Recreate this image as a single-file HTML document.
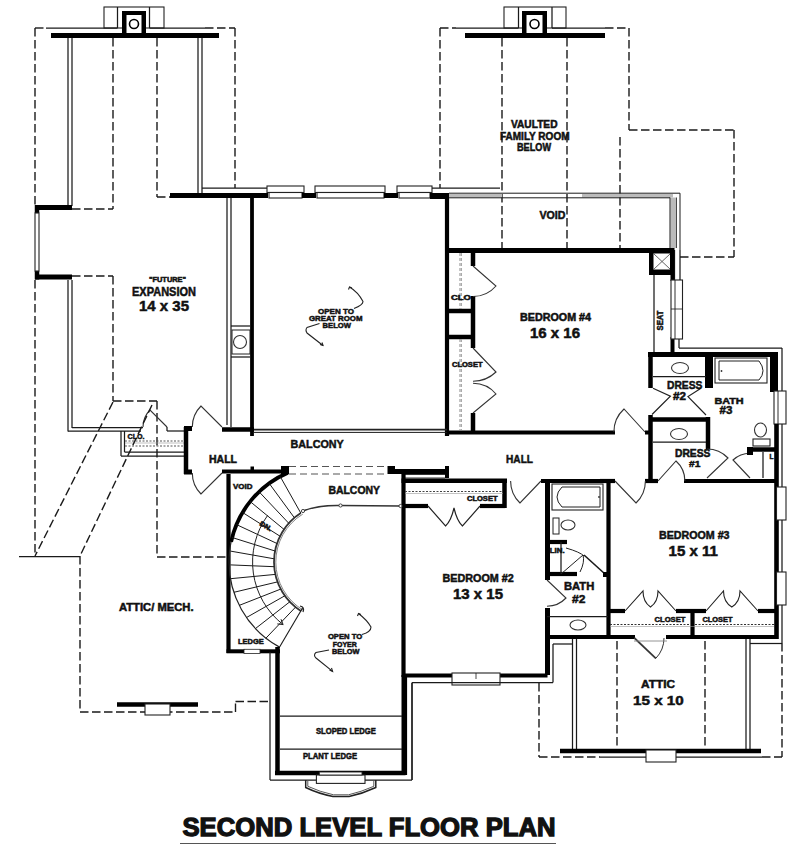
<!DOCTYPE html>
<html><head><meta charset="utf-8"><style>
html,body{margin:0;padding:0;background:#fff;}
svg{display:block;}
text{font-family:"Liberation Sans",sans-serif;font-weight:bold;fill:#111;stroke:#111;stroke-width:0.5px;}
</style></head><body>
<svg width="800" height="849" viewBox="0 0 800 849">
<rect width="800" height="849" fill="#fff"/>
<line x1="51" y1="35.5" x2="219" y2="35.5" stroke="#000" stroke-width="5" stroke-linecap="butt"/>
<rect x="104" y="7" width="60" height="21" stroke="#222" stroke-width="1.1" fill="#fff"/>
<rect x="122" y="11" width="24" height="24" fill="#000"/>
<rect x="126.5" y="15" width="15.0" height="18" fill="#fff"/>
<circle cx="134" cy="24" r="4.5" stroke="#000" stroke-width="1.6" fill="#fff"/>
<line x1="35" y1="28" x2="46" y2="28" stroke="#1a1a1a" stroke-width="1.4" stroke-dasharray="8.5 3.5"/>
<line x1="46" y1="28" x2="117.5" y2="28" stroke="#1a1a1a" stroke-width="1.25"/>
<line x1="149.5" y1="28" x2="205" y2="28" stroke="#1a1a1a" stroke-width="1.25"/>
<line x1="117.5" y1="7" x2="117.5" y2="28" stroke="#1a1a1a" stroke-width="1.25"/>
<line x1="149.5" y1="7" x2="149.5" y2="28" stroke="#1a1a1a" stroke-width="1.25"/>
<line x1="205" y1="28" x2="235" y2="28" stroke="#1a1a1a" stroke-width="1.4" stroke-dasharray="8.5 3.5"/>
<line x1="35" y1="28" x2="35" y2="207" stroke="#1a1a1a" stroke-width="1.4" stroke-dasharray="8.5 3.5"/>
<line x1="68" y1="38" x2="68" y2="206" stroke="#1a1a1a" stroke-width="1.25"/>
<line x1="72" y1="38" x2="72" y2="206" stroke="#1a1a1a" stroke-width="1.25"/>
<line x1="113" y1="38" x2="113" y2="209" stroke="#1a1a1a" stroke-width="1.4" stroke-dasharray="8.5 3.5"/>
<line x1="72" y1="209" x2="113" y2="209" stroke="#1a1a1a" stroke-width="1.4" stroke-dasharray="8.5 3.5"/>
<line x1="157" y1="38" x2="157" y2="197" stroke="#1a1a1a" stroke-width="1.4" stroke-dasharray="8.5 3.5"/>
<line x1="157" y1="197" x2="170" y2="197" stroke="#1a1a1a" stroke-width="1.4" stroke-dasharray="8.5 3.5"/>
<line x1="198" y1="38" x2="198" y2="193" stroke="#1a1a1a" stroke-width="1.25"/>
<line x1="202" y1="38" x2="202" y2="193" stroke="#1a1a1a" stroke-width="1.25"/>
<line x1="235" y1="28" x2="235" y2="188" stroke="#1a1a1a" stroke-width="1.4" stroke-dasharray="8.5 3.5"/>
<line x1="35" y1="207.5" x2="72" y2="207.5" stroke="#000" stroke-width="5" stroke-linecap="butt"/>
<line x1="37" y1="205" x2="37" y2="213" stroke="#000" stroke-width="4.5" stroke-linecap="butt"/>
<line x1="37" y1="271" x2="37" y2="279.5" stroke="#000" stroke-width="4.5" stroke-linecap="butt"/>
<rect x="35" y="213" width="4" height="58" stroke="#222" stroke-width="1.1" fill="#fff"/>
<line x1="35" y1="277" x2="72" y2="277" stroke="#000" stroke-width="5" stroke-linecap="butt"/>
<line x1="35" y1="280" x2="35" y2="556" stroke="#1a1a1a" stroke-width="1.4" stroke-dasharray="8.5 3.5"/>
<line x1="68" y1="280" x2="68" y2="431.5" stroke="#1a1a1a" stroke-width="1.25"/>
<line x1="72" y1="280" x2="72" y2="428" stroke="#1a1a1a" stroke-width="1.25"/>
<line x1="72" y1="276" x2="113" y2="276" stroke="#1a1a1a" stroke-width="1.4" stroke-dasharray="8.5 3.5"/>
<line x1="113" y1="276" x2="113" y2="401" stroke="#1a1a1a" stroke-width="1.4" stroke-dasharray="8.5 3.5"/>
<line x1="113" y1="401" x2="157" y2="401" stroke="#1a1a1a" stroke-width="1.4" stroke-dasharray="8.5 3.5"/>
<line x1="157" y1="401" x2="157" y2="557" stroke="#1a1a1a" stroke-width="1.4" stroke-dasharray="8.5 3.5"/>
<line x1="157" y1="557" x2="228" y2="557" stroke="#1a1a1a" stroke-width="1.4" stroke-dasharray="8.5 3.5"/>
<line x1="202" y1="188" x2="267" y2="188" stroke="#1a1a1a" stroke-width="1.25"/>
<rect x="170" y="193" width="98" height="5" fill="#000"/>
<rect x="267" y="186" width="37" height="6.5" stroke="#222" stroke-width="1.1" fill="#fff"/>
<rect x="269" y="192.5" width="33" height="5.5" stroke="#222" stroke-width="1.1" fill="#fff"/>
<rect x="302" y="193" width="14" height="5" fill="#000"/>
<rect x="315" y="186" width="70" height="6.5" stroke="#222" stroke-width="1.1" fill="#fff"/>
<rect x="317" y="192.5" width="67" height="5.5" stroke="#222" stroke-width="1.1" fill="#fff"/>
<rect x="384" y="193" width="14" height="5" fill="#000"/>
<rect x="397" y="186" width="35" height="6.5" stroke="#222" stroke-width="1.1" fill="#fff"/>
<rect x="399" y="192.5" width="31" height="5.5" stroke="#222" stroke-width="1.1" fill="#fff"/>
<rect x="430" y="193" width="19" height="6" fill="#000"/>
<line x1="432" y1="188" x2="500" y2="188" stroke="#1a1a1a" stroke-width="1.25"/>
<line x1="227" y1="198" x2="227" y2="425" stroke="#1a1a1a" stroke-width="1.25"/>
<line x1="231" y1="198" x2="231" y2="427" stroke="#1a1a1a" stroke-width="1.25"/>
<line x1="231" y1="326" x2="250" y2="326" stroke="#1a1a1a" stroke-width="1.25"/>
<line x1="231" y1="357" x2="250" y2="357" stroke="#1a1a1a" stroke-width="1.25"/>
<rect x="232" y="330" width="18" height="24" stroke="#222" stroke-width="1.0" fill="#fff"/>
<circle cx="240" cy="342" r="6.5" stroke="#333" stroke-width="1.1" fill="none"/>
<line x1="252" y1="195" x2="252" y2="436" stroke="#000" stroke-width="3.8" stroke-linecap="butt"/>
<line x1="447" y1="195" x2="447" y2="436" stroke="#000" stroke-width="4.2" stroke-linecap="butt"/>
<line x1="465" y1="35.5" x2="605" y2="35.5" stroke="#000" stroke-width="5" stroke-linecap="butt"/>
<rect x="504" y="7" width="62" height="21" stroke="#222" stroke-width="1.1" fill="#fff"/>
<rect x="522" y="11" width="25" height="24" fill="#000"/>
<rect x="526.5" y="15" width="16.0" height="18" fill="#fff"/>
<circle cx="534.5" cy="24" r="4.5" stroke="#000" stroke-width="1.6" fill="#fff"/>
<line x1="440" y1="28" x2="456" y2="28" stroke="#1a1a1a" stroke-width="1.4" stroke-dasharray="8.5 3.5"/>
<line x1="456" y1="28" x2="518.5" y2="28" stroke="#1a1a1a" stroke-width="1.25"/>
<line x1="552" y1="28" x2="605" y2="28" stroke="#1a1a1a" stroke-width="1.25"/>
<line x1="518.5" y1="7" x2="518.5" y2="28" stroke="#1a1a1a" stroke-width="1.25"/>
<line x1="552" y1="7" x2="552" y2="28" stroke="#1a1a1a" stroke-width="1.25"/>
<line x1="605" y1="28" x2="629" y2="28" stroke="#1a1a1a" stroke-width="1.4" stroke-dasharray="8.5 3.5"/>
<line x1="440" y1="28" x2="440" y2="188" stroke="#1a1a1a" stroke-width="1.4" stroke-dasharray="8.5 3.5"/>
<line x1="502" y1="38" x2="502" y2="250" stroke="#1a1a1a" stroke-width="1.4" stroke-dasharray="8.5 3.5"/>
<line x1="567" y1="38" x2="567" y2="250" stroke="#1a1a1a" stroke-width="1.4" stroke-dasharray="8.5 3.5"/>
<line x1="629" y1="28" x2="629" y2="130" stroke="#1a1a1a" stroke-width="1.4" stroke-dasharray="8.5 3.5"/>
<line x1="629" y1="130" x2="734" y2="130" stroke="#1a1a1a" stroke-width="1.4" stroke-dasharray="8.5 3.5"/>
<line x1="734" y1="130" x2="734" y2="257" stroke="#1a1a1a" stroke-width="1.4" stroke-dasharray="8.5 3.5"/>
<line x1="680" y1="257" x2="734" y2="257" stroke="#1a1a1a" stroke-width="1.4" stroke-dasharray="8.5 3.5"/>
<line x1="620" y1="137" x2="620" y2="250" stroke="#1a1a1a" stroke-width="1.4" stroke-dasharray="8.5 3.5"/>
<line x1="449" y1="193.2" x2="680" y2="193.2" stroke="#1a1a1a" stroke-width="1.0"/>
<rect x="449" y="194" width="53" height="3.5" fill="#bbb"/>
<rect x="582" y="194" width="91" height="3.5" fill="#bbb"/>
<line x1="449" y1="197.8" x2="670" y2="197.8" stroke="#1a1a1a" stroke-width="1.0"/>
<rect x="670.5" y="197.5" width="5.5" height="50.5" fill="#bbb"/>
<line x1="670" y1="197.5" x2="670" y2="248" stroke="#1a1a1a" stroke-width="1.0"/>
<line x1="676.5" y1="197.5" x2="676.5" y2="248" stroke="#1a1a1a" stroke-width="0.8"/>
<line x1="680" y1="193.2" x2="680" y2="250" stroke="#1a1a1a" stroke-width="1.0"/>
<line x1="674.5" y1="250" x2="674.5" y2="280" stroke="#1a1a1a" stroke-width="1.25"/>
<line x1="680" y1="250" x2="680" y2="280" stroke="#1a1a1a" stroke-width="1.25"/>
<line x1="679" y1="339" x2="679" y2="348" stroke="#1a1a1a" stroke-width="1.25"/>
<line x1="679" y1="348" x2="782" y2="348" stroke="#1a1a1a" stroke-width="1.25"/>
<line x1="782" y1="348" x2="782" y2="643" stroke="#1a1a1a" stroke-width="1.25"/>
<line x1="445" y1="250.5" x2="674" y2="250.5" stroke="#000" stroke-width="5" stroke-linecap="butt"/>
<line x1="473" y1="253" x2="473" y2="266" stroke="#000" stroke-width="4.5" stroke-linecap="butt"/>
<line x1="473" y1="296" x2="473" y2="348" stroke="#000" stroke-width="4.5" stroke-linecap="butt"/>
<line x1="473" y1="413" x2="473" y2="432" stroke="#000" stroke-width="4.5" stroke-linecap="butt"/>
<line x1="447" y1="311" x2="473" y2="311" stroke="#000" stroke-width="4.5" stroke-linecap="butt"/>
<line x1="447" y1="337" x2="473" y2="337" stroke="#000" stroke-width="4.5" stroke-linecap="butt"/>
<line x1="460" y1="253" x2="460" y2="309" stroke="#888" stroke-width="1.0" stroke-dasharray="3 2"/>
<line x1="461.5" y1="253" x2="461.5" y2="309" stroke="#aaa" stroke-width="1.0" stroke-dasharray="3 2"/>
<line x1="460" y1="339" x2="460" y2="430" stroke="#888" stroke-width="1.0" stroke-dasharray="3 2"/>
<line x1="461.5" y1="339" x2="461.5" y2="430" stroke="#aaa" stroke-width="1.0" stroke-dasharray="3 2"/>
<path d="M473,266 L496,286 A30.5,30.5 0 0 1 473.0,296.5" stroke="#333" stroke-width="1.1" fill="none"/>
<path d="M473,348 L496,372 A33.2,33.2 0 0 1 473.0,381.2" stroke="#333" stroke-width="1.1" fill="none"/>
<path d="M473,413 L496,394 A29.8,29.8 0 0 0 473.0,383.2" stroke="#333" stroke-width="1.1" fill="none"/>
<line x1="447" y1="432.5" x2="615" y2="432.5" stroke="#000" stroke-width="4.2" stroke-linecap="butt"/>
<path d="M645,432 L624,409 A31.1,31.1 0 0 0 613.9,432.0" stroke="#333" stroke-width="1.1" fill="none"/>
<rect x="645" y="430.5" width="7" height="4.0" fill="#000"/>
<rect x="649" y="248" width="25.5" height="27" fill="#000"/>
<rect x="653.5" y="253.5" width="16.5" height="16.0" fill="#fff"/>
<line x1="654" y1="254" x2="670" y2="269" stroke="#555" stroke-width="0.9"/>
<line x1="670" y1="254" x2="654" y2="269" stroke="#555" stroke-width="0.9"/>
<line x1="654" y1="275" x2="654" y2="353" stroke="#1a1a1a" stroke-width="1.25"/>
<line x1="672.5" y1="275" x2="672.5" y2="281" stroke="#000" stroke-width="4" stroke-linecap="butt"/>
<line x1="672.5" y1="337" x2="672.5" y2="353" stroke="#000" stroke-width="4" stroke-linecap="butt"/>
<rect x="671" y="280" width="11.5" height="59" stroke="#222" stroke-width="1.1" fill="#fff"/>
<line x1="675" y1="280" x2="675" y2="339" stroke="#1a1a1a" stroke-width="0.9"/>
<line x1="671" y1="309" x2="682" y2="309" stroke="#1a1a1a" stroke-width="0.8"/>
<line x1="650.5" y1="352" x2="650.5" y2="388" stroke="#000" stroke-width="4.5" stroke-linecap="butt"/>
<line x1="650.5" y1="415" x2="650.5" y2="481" stroke="#000" stroke-width="4.5" stroke-linecap="butt"/>
<line x1="648" y1="354.5" x2="778" y2="354.5" stroke="#000" stroke-width="5" stroke-linecap="butt"/>
<rect x="705" y="352" width="8" height="36" fill="#000"/>
<line x1="653" y1="376.5" x2="706" y2="376.5" stroke="#1a1a1a" stroke-width="1.25"/>
<ellipse cx="680" cy="368" rx="8.5" ry="5.5" stroke="#333" stroke-width="1.1" fill="none"/>
<rect x="715" y="358" width="52" height="25" stroke="#222" stroke-width="1.1" fill="#fff"/>
<path d="M719,361 L759,361 Q767,371 759,380 L719,380 Z" stroke="#222" stroke-width="1.0" fill="none" />
<circle cx="721.5" cy="371" r="0.9" fill="#333"/>
<rect x="770" y="352" width="8" height="40" fill="#000"/>
<rect x="774" y="391" width="12" height="33" stroke="#222" stroke-width="1.1" fill="#fff"/>
<line x1="778" y1="391" x2="778" y2="424" stroke="#1a1a1a" stroke-width="0.9"/>
<line x1="776.5" y1="424" x2="776.5" y2="639" stroke="#000" stroke-width="4.6" stroke-linecap="butt"/>
<rect x="776.5" y="487" width="9.5" height="33" stroke="#222" stroke-width="1.1" fill="#fff"/>
<rect x="776.5" y="572" width="9.5" height="33" stroke="#222" stroke-width="1.1" fill="#fff"/>
<path d="M653,388.3 L670.4,396.2 L652,414.5" stroke="#222" stroke-width="1.2" fill="none" />
<path d="M701,388.3 L688,396.6 L706,415" stroke="#222" stroke-width="1.2" fill="none" />
<line x1="649" y1="419.5" x2="709" y2="419.5" stroke="#000" stroke-width="4.5" stroke-linecap="butt"/>
<line x1="708" y1="417" x2="708" y2="449" stroke="#000" stroke-width="4.5" stroke-linecap="butt"/>
<line x1="653" y1="442" x2="706" y2="442" stroke="#1a1a1a" stroke-width="1.25"/>
<ellipse cx="679" cy="434" rx="8.5" ry="5.5" stroke="#333" stroke-width="1.1" fill="none"/>
<line x1="600" y1="481" x2="615" y2="481" stroke="#000" stroke-width="4.2" stroke-linecap="butt"/>
<line x1="645" y1="481" x2="658" y2="481" stroke="#000" stroke-width="4.2" stroke-linecap="butt"/>
<line x1="684" y1="481" x2="778" y2="481" stroke="#000" stroke-width="4.2" stroke-linecap="butt"/>
<path d="M658,481 L676,461 A26.9,26.9 0 0 1 684.9,481.0" stroke="#333" stroke-width="1.1" fill="none"/>
<path d="M707,478 L728,458 A29.0,29.0 0 0 0 707.0,449.0" stroke="#333" stroke-width="1.1" fill="none"/>
<path d="M750,478 L733,460 A24.8,24.8 0 0 1 750.0,453.2" stroke="#333" stroke-width="1.1" fill="none"/>
<line x1="749" y1="449.5" x2="776" y2="449.5" stroke="#000" stroke-width="4.5" stroke-linecap="butt"/>
<rect x="747" y="447" width="6" height="8" fill="#000"/>
<line x1="763" y1="452" x2="763" y2="478" stroke="#1a1a1a" stroke-width="1.25"/>
<ellipse cx="760.5" cy="430" rx="6" ry="7" stroke="#333" stroke-width="1.1" fill="none"/>
<rect x="753" y="439" width="17" height="7" stroke="#222" stroke-width="1.1" fill="#fff"/>
<path d="M615,481 L636,503 A30.4,30.4 0 0 0 645.4,481.0" stroke="#333" stroke-width="1.1" fill="none"/>
<line x1="72" y1="427.5" x2="143" y2="427.5" stroke="#1a1a1a" stroke-width="1.25"/>
<line x1="68" y1="431" x2="141" y2="431" stroke="#1a1a1a" stroke-width="1.25"/>
<path d="M167,427 L150,410 A24.0,24.0 0 0 0 143.0,427.0" stroke="#333" stroke-width="1.1" fill="none"/>
<line x1="167" y1="427" x2="167" y2="431" stroke="#1a1a1a" stroke-width="1.25"/>
<line x1="167" y1="431" x2="184" y2="431" stroke="#1a1a1a" stroke-width="1.25"/>
<line x1="121" y1="431" x2="121" y2="456" stroke="#1a1a1a" stroke-width="1.25"/>
<line x1="121" y1="456" x2="184" y2="456" stroke="#1a1a1a" stroke-width="1.25"/>
<line x1="124.5" y1="431" x2="124.5" y2="452" stroke="#1a1a1a" stroke-width="1.25"/>
<line x1="124.5" y1="452" x2="184" y2="452" stroke="#1a1a1a" stroke-width="1.25"/>
<line x1="125" y1="441" x2="184" y2="441" stroke="#555" stroke-width="1.0" stroke-dasharray="2 1.5"/>
<line x1="125" y1="443" x2="184" y2="443" stroke="#999" stroke-width="0.6"/>
<line x1="125" y1="446" x2="184" y2="446" stroke="#555" stroke-width="1.0" stroke-dasharray="2 1.5"/>
<line x1="186" y1="427" x2="186" y2="474" stroke="#000" stroke-width="4.5" stroke-linecap="butt"/>
<rect x="184" y="426" width="8" height="5" fill="#000"/>
<rect x="184" y="469.5" width="8" height="5.0" fill="#000"/>
<path d="M222,427 L201,406 A29.7,29.7 0 0 0 192.3,427.0" stroke="#333" stroke-width="1.1" fill="none"/>
<path d="M222,473 L201,494 A29.7,29.7 0 0 1 192.3,473.0" stroke="#333" stroke-width="1.1" fill="none"/>
<line x1="222" y1="429.5" x2="254" y2="429.5" stroke="#000" stroke-width="4.5" stroke-linecap="butt"/>
<line x1="254" y1="429.6" x2="447" y2="429.6" stroke="#222" stroke-width="1.8"/>
<line x1="254" y1="432.4" x2="447" y2="432.4" stroke="#1a1a1a" stroke-width="1.0"/>
<line x1="222" y1="471.5" x2="288" y2="471.5" stroke="#000" stroke-width="4" stroke-linecap="butt"/>
<rect x="281" y="466" width="8" height="8" fill="#000"/>
<rect x="250.5" y="466.5" width="3.5" height="3.5" fill="#000"/>
<line x1="289" y1="466.5" x2="388" y2="466.5" stroke="#555" stroke-width="1.1" stroke-dasharray="7 4"/>
<line x1="289" y1="474" x2="388" y2="474" stroke="#555" stroke-width="1.1" stroke-dasharray="7 4"/>
<rect x="387.5" y="466" width="7.5" height="8" fill="#000"/>
<line x1="395" y1="471.5" x2="449" y2="471.5" stroke="#000" stroke-width="5" stroke-linecap="butt"/>
<line x1="447" y1="466" x2="447" y2="478" stroke="#000" stroke-width="4" stroke-linecap="butt"/>
<line x1="405" y1="474.5" x2="445" y2="474.5" stroke="#1a1a1a" stroke-width="0.9"/>
<line x1="405" y1="478" x2="445" y2="478" stroke="#1a1a1a" stroke-width="0.9"/>
<line x1="228.5" y1="474" x2="228.5" y2="653" stroke="#000" stroke-width="4.2" stroke-linecap="butt"/>
<line x1="113" y1="402" x2="35" y2="556" stroke="#1a1a1a" stroke-width="1.4" stroke-dasharray="8.5 3.5"/>
<line x1="152" y1="405" x2="80" y2="556" stroke="#1a1a1a" stroke-width="1.4" stroke-dasharray="8.5 3.5"/>
<line x1="19" y1="556.5" x2="80" y2="556.5" stroke="#1a1a1a" stroke-width="1.25"/>
<line x1="80" y1="556" x2="80" y2="712" stroke="#1a1a1a" stroke-width="1.4" stroke-dasharray="8.5 3.5"/>
<line x1="80" y1="712" x2="235.5" y2="712" stroke="#1a1a1a" stroke-width="1.4" stroke-dasharray="8.5 3.5"/>
<line x1="235.5" y1="712" x2="235.5" y2="701.5" stroke="#1a1a1a" stroke-width="1.4" stroke-dasharray="8.5 3.5"/>
<line x1="235.5" y1="701.5" x2="270" y2="701.5" stroke="#1a1a1a" stroke-width="1.4" stroke-dasharray="8.5 3.5"/>
<line x1="117" y1="704.5" x2="198" y2="704.5" stroke="#000" stroke-width="4.5" stroke-linecap="butt"/>
<rect x="145" y="704" width="25" height="11" stroke="#222" stroke-width="1.1" fill="#fff"/>
<line x1="403.5" y1="473" x2="403.5" y2="677" stroke="#000" stroke-width="4.2" stroke-linecap="butt"/>
<line x1="404.3" y1="675" x2="404.3" y2="775" stroke="#000" stroke-width="5.6" stroke-linecap="butt"/>
<line x1="401.5" y1="480.8" x2="507" y2="480.8" stroke="#000" stroke-width="4.4" stroke-linecap="butt"/>
<line x1="504.5" y1="479" x2="504.5" y2="508" stroke="#000" stroke-width="4.5" stroke-linecap="butt"/>
<line x1="403" y1="506" x2="428" y2="506" stroke="#000" stroke-width="4.2" stroke-linecap="butt"/>
<line x1="480" y1="506" x2="505" y2="506" stroke="#000" stroke-width="4.2" stroke-linecap="butt"/>
<line x1="405" y1="491.5" x2="503" y2="491.5" stroke="#444" stroke-width="1.0" stroke-dasharray="2 1.5"/>
<line x1="405" y1="493.5" x2="503" y2="493.5" stroke="#999" stroke-width="0.6"/>
<path d="M428,506 L445.5,526 Q451,521 454,508 Q457,521 462.5,526 L480,506" stroke="#222" stroke-width="1.2" fill="none" />
<path d="M541,481 L520,503 A30.4,30.4 0 0 1 510.6,481.0" stroke="#333" stroke-width="1.1" fill="none"/>
<line x1="541" y1="481" x2="615" y2="481" stroke="#000" stroke-width="4.2" stroke-linecap="butt"/>
<line x1="547.5" y1="479" x2="547.5" y2="580" stroke="#000" stroke-width="5" stroke-linecap="butt"/>
<line x1="547.5" y1="608" x2="547.5" y2="675" stroke="#000" stroke-width="5" stroke-linecap="butt"/>
<line x1="608.5" y1="479" x2="608.5" y2="637" stroke="#000" stroke-width="4.2" stroke-linecap="butt"/>
<line x1="403" y1="675.5" x2="547.5" y2="675.5" stroke="#000" stroke-width="4.2" stroke-linecap="butt"/>
<rect x="452" y="673" width="48" height="12" stroke="#222" stroke-width="1.1" fill="#fff"/>
<line x1="476" y1="673" x2="476" y2="679" stroke="#1a1a1a" stroke-width="0.8"/>
<line x1="412" y1="682.5" x2="553" y2="682.5" stroke="#1a1a1a" stroke-width="1.25"/>
<line x1="553" y1="644" x2="553" y2="682.5" stroke="#1a1a1a" stroke-width="1.25"/>
<line x1="553" y1="644" x2="572" y2="644" stroke="#1a1a1a" stroke-width="1.25"/>
<line x1="412" y1="682.5" x2="412" y2="780" stroke="#1a1a1a" stroke-width="1.25"/>
<line x1="539" y1="683" x2="539" y2="757" stroke="#1a1a1a" stroke-width="1.4" stroke-dasharray="8.5 3.5"/>
<line x1="539" y1="757" x2="600" y2="757" stroke="#1a1a1a" stroke-width="1.4" stroke-dasharray="8.5 3.5"/>
<rect x="552" y="484" width="51" height="26" stroke="#222" stroke-width="1.1" fill="#fff"/>
<path d="M562,487 L600,487 L600,507 L562,507 Q552,497 562,487 Z" stroke="#222" stroke-width="1.0" fill="none" />
<circle cx="599" cy="497" r="0.9" fill="#333"/>
<rect x="553" y="518" width="6" height="16" stroke="#222" stroke-width="1.0" fill="#fff"/>
<ellipse cx="568" cy="525" rx="7" ry="5" stroke="#333" stroke-width="1.1" fill="none"/>
<line x1="547" y1="542" x2="567" y2="542" stroke="#000" stroke-width="4.2" stroke-linecap="butt"/>
<line x1="547" y1="574" x2="577" y2="574" stroke="#000" stroke-width="4.2" stroke-linecap="butt"/>
<line x1="561" y1="542" x2="561" y2="574" stroke="#1a1a1a" stroke-width="1.25"/>
<path d="M561,574 L583,555 Q585,562 580,572" stroke="#222" stroke-width="1.0" fill="none" />
<path d="M566,548 Q580,552 584,556" stroke="#222" stroke-width="1.0" fill="none" />
<line x1="584" y1="555" x2="605" y2="574" stroke="#1a1a1a" stroke-width="1.6"/>
<rect x="603" y="572" width="5" height="5" fill="#000"/>
<path d="M547,580 L566,598 A26.2,26.2 0 0 1 547.0,606.2" stroke="#333" stroke-width="1.1" fill="none"/>
<line x1="547" y1="616.5" x2="608" y2="616.5" stroke="#1a1a1a" stroke-width="1.25"/>
<ellipse cx="578" cy="625" rx="8" ry="5" stroke="#333" stroke-width="1.1" fill="none"/>
<line x1="547" y1="637" x2="635" y2="637" stroke="#000" stroke-width="4.2" stroke-linecap="butt"/>
<line x1="666" y1="637" x2="778" y2="637" stroke="#000" stroke-width="4.2" stroke-linecap="butt"/>
<line x1="608" y1="611" x2="625" y2="611" stroke="#000" stroke-width="4.2" stroke-linecap="butt"/>
<line x1="676" y1="611" x2="706" y2="611" stroke="#000" stroke-width="4.2" stroke-linecap="butt"/>
<line x1="758" y1="611" x2="778" y2="611" stroke="#000" stroke-width="4.2" stroke-linecap="butt"/>
<line x1="692.5" y1="611" x2="692.5" y2="637" stroke="#000" stroke-width="4.2" stroke-linecap="butt"/>
<path d="M625,611 L643,591 Q643,602 650.5,607 Q658,602 658,591 L676,611" stroke="#222" stroke-width="1.1" fill="none" />
<path d="M706,611 L723.5,591 Q723.5,602 731.8,607 Q740,602 740,591 L758,611" stroke="#222" stroke-width="1.1" fill="none" />
<line x1="610" y1="624.5" x2="690" y2="624.5" stroke="#333" stroke-width="1.1" stroke-dasharray="2 1.5"/>
<line x1="695" y1="624.5" x2="774" y2="624.5" stroke="#333" stroke-width="1.1" stroke-dasharray="2 1.5"/>
<line x1="610" y1="626.5" x2="774" y2="626.5" stroke="#999" stroke-width="0.6"/>
<line x1="634.4" y1="638" x2="655.8" y2="658.4" stroke="#444" stroke-width="1.8"/>
<path d="M634.4,638 L655.8,658.4 A29.6,29.6 0 0 0 664.0,638.0" stroke="#333" stroke-width="1.0" fill="none"/>
<line x1="634" y1="641" x2="667" y2="641" stroke="#888" stroke-width="0.9"/>
<line x1="617" y1="641" x2="617" y2="750" stroke="#1a1a1a" stroke-width="1.4" stroke-dasharray="8.5 3.5"/>
<line x1="705" y1="641" x2="705" y2="750" stroke="#1a1a1a" stroke-width="1.4" stroke-dasharray="8.5 3.5"/>
<line x1="572.5" y1="639" x2="572.5" y2="749" stroke="#1a1a1a" stroke-width="1.25"/>
<line x1="576.5" y1="639" x2="576.5" y2="749" stroke="#1a1a1a" stroke-width="1.25"/>
<line x1="746" y1="639" x2="746" y2="750" stroke="#1a1a1a" stroke-width="1.25"/>
<line x1="750" y1="639" x2="750" y2="750" stroke="#1a1a1a" stroke-width="1.25"/>
<line x1="750" y1="643.5" x2="782" y2="643.5" stroke="#1a1a1a" stroke-width="1.25"/>
<line x1="782" y1="643" x2="782" y2="757" stroke="#1a1a1a" stroke-width="1.4" stroke-dasharray="8.5 3.5"/>
<line x1="762" y1="757" x2="782" y2="757" stroke="#1a1a1a" stroke-width="1.4" stroke-dasharray="8.5 3.5"/>
<line x1="600" y1="757" x2="762" y2="757" stroke="#1a1a1a" stroke-width="1.25"/>
<line x1="560" y1="751" x2="761" y2="751" stroke="#000" stroke-width="4.5" stroke-linecap="butt"/>
<rect x="646" y="750" width="30" height="12" stroke="#222" stroke-width="1.1" fill="#fff"/>
<path d="M287.9,472.8 A97,97 0 0 0 279.5,647.1" stroke="#222" stroke-width="1.2" fill="none" />
<path d="M287.9,472.8 A97,97 0 0 0 231.1,541.8" stroke="#000" stroke-width="3.8" fill="none" />
<path d="M300.8,513.1 A58,58 0 0 0 301.3,611.2" stroke="#333" stroke-width="1.8" fill="none" />
<path d="M302.8,514.1 A56,56 0 0 0 303.3,610.2" stroke="#666" stroke-width="0.8" fill="none" />
<path d="M267.7,515.3 A79.5,79.5 0 0 0 283.1,624.6" stroke="#222" stroke-width="1.0" fill="none" />
<line x1="300.8" y1="513.1" x2="280.2" y2="476.5" stroke="#1a1a1a" stroke-width="1.0"/>
<line x1="294.4" y1="517.8" x2="269.2" y2="483.4" stroke="#1a1a1a" stroke-width="1.0"/>
<line x1="288.8" y1="523.3" x2="259.1" y2="491.8" stroke="#1a1a1a" stroke-width="1.0"/>
<line x1="284.0" y1="529.4" x2="250.1" y2="501.5" stroke="#1a1a1a" stroke-width="1.0"/>
<line x1="280.0" y1="536.2" x2="242.6" y2="512.5" stroke="#1a1a1a" stroke-width="1.0"/>
<line x1="277.0" y1="543.5" x2="236.5" y2="524.6" stroke="#1a1a1a" stroke-width="1.0"/>
<line x1="275.0" y1="551.0" x2="232.1" y2="537.5" stroke="#1a1a1a" stroke-width="1.0"/>
<line x1="274.1" y1="558.8" x2="230.5" y2="551.1" stroke="#1a1a1a" stroke-width="1.0"/>
<line x1="274.2" y1="566.7" x2="230.5" y2="564.9" stroke="#1a1a1a" stroke-width="1.0"/>
<line x1="275.3" y1="574.4" x2="230.5" y2="578.7" stroke="#1a1a1a" stroke-width="1.0"/>
<line x1="277.5" y1="581.9" x2="233.9" y2="592.3" stroke="#1a1a1a" stroke-width="1.0"/>
<line x1="280.7" y1="589.1" x2="239.2" y2="605.4" stroke="#1a1a1a" stroke-width="1.0"/>
<line x1="284.8" y1="595.8" x2="246.5" y2="617.5" stroke="#1a1a1a" stroke-width="1.0"/>
<line x1="289.8" y1="601.8" x2="255.4" y2="628.6" stroke="#1a1a1a" stroke-width="1.0"/>
<line x1="295.6" y1="607.1" x2="265.9" y2="638.2" stroke="#1a1a1a" stroke-width="1.0"/>
<line x1="279" y1="648" x2="302.7" y2="607.8" stroke="#1a1a1a" stroke-width="1.1"/>
<path d="M300,606 Q305,607 303,612" stroke="#222" stroke-width="1.2" fill="none" />
<path d="M277.3,623.9 L283.1,624.6 L281.0,619.2" stroke="#222" stroke-width="1.0" fill="none" />
<path d="M303,511 Q318,505 340,505.5 L400,506" stroke="#333" stroke-width="1.4" fill="none" />
<circle cx="340.5" cy="505.5" r="1.6" fill="#fff" stroke="#333" stroke-width="0.9"/>
<circle cx="400.5" cy="506" r="1.6" fill="#fff" stroke="#333" stroke-width="0.9"/>
<circle cx="303" cy="511" r="1.6" fill="#fff" stroke="#333" stroke-width="0.9"/>
<line x1="226.5" y1="651.3" x2="245" y2="651.3" stroke="#000" stroke-width="4" stroke-linecap="butt"/>
<line x1="260" y1="651.3" x2="280" y2="651.3" stroke="#000" stroke-width="4" stroke-linecap="butt"/>
<rect x="244" y="649.3" width="16" height="4.2" stroke="#222" stroke-width="0.8" fill="#fff"/>
<line x1="277.5" y1="647" x2="277.5" y2="773" stroke="#000" stroke-width="4.5" stroke-linecap="butt"/>
<line x1="270" y1="652" x2="270" y2="780" stroke="#1a1a1a" stroke-width="1.25"/>
<line x1="275" y1="773" x2="405.5" y2="773" stroke="#000" stroke-width="4.5" stroke-linecap="butt"/>
<line x1="270" y1="780" x2="412" y2="780" stroke="#1a1a1a" stroke-width="1.25"/>
<line x1="280" y1="716" x2="402" y2="716" stroke="#1a1a1a" stroke-width="1.25"/>
<line x1="280" y1="749" x2="402" y2="749" stroke="#1a1a1a" stroke-width="1.25"/>
<rect x="316.4" y="775" width="48.6" height="8.4" stroke="#222" stroke-width="1.1" fill="#fff"/>
<rect x="319.3" y="772" width="42.7" height="3" stroke="#222" stroke-width="0.9" fill="#fff"/>
<path d="M305.7,780 L305.7,787.5 Q318,793.5 333,796.5 L349,796.5 Q363,793.5 375.8,787.5 L375.8,780" stroke="#222" stroke-width="1.5" fill="none" />
<path d="M307.8,781 L307.8,786.3 Q320,792 333.5,794.8 L348.5,794.8 Q361,792 373.8,786.3 L373.8,781" stroke="#444" stroke-width="0.9" fill="none" />
<line x1="412" y1="683" x2="412" y2="780" stroke="#1a1a1a" stroke-width="1.25"/>
<text x="511" y="127.5" font-size="10.00" textLength="46.5" lengthAdjust="spacingAndGlyphs" >VAULTED</text>
<text x="500" y="140" font-size="10.00" textLength="69.5" lengthAdjust="spacingAndGlyphs" >FAMILY ROOM</text>
<text x="517" y="151" font-size="10.00" textLength="34" lengthAdjust="spacingAndGlyphs" >BELOW</text>
<text x="539.5" y="219" font-size="11.33" textLength="26.0" lengthAdjust="spacingAndGlyphs" >VOID</text>
<text x="149" y="282" font-size="6.67" textLength="37" lengthAdjust="spacingAndGlyphs" >&quot;FUTURE&quot;</text>
<text x="132" y="295.5" font-size="12.67" textLength="64" lengthAdjust="spacingAndGlyphs" >EXPANSION</text>
<text x="139" y="311" font-size="14.67" textLength="50" lengthAdjust="spacingAndGlyphs" >14 x 35</text>
<text x="318" y="313.75" font-size="8.00" textLength="36" lengthAdjust="spacingAndGlyphs" >OPEN TO</text>
<text x="309" y="321" font-size="8.00" textLength="53.5" lengthAdjust="spacingAndGlyphs" >GREAT ROOM</text>
<text x="322.5" y="327.5" font-size="8.00" textLength="28.5" lengthAdjust="spacingAndGlyphs" >BELOW</text>
<path d="M349.5,287 Q358,292 363,301.5 Q363,305 354,308.5" stroke="#222" stroke-width="1.1" fill="none" />
<path d="M348.5,289.5 L349.5,287 L352,288" stroke="#222" stroke-width="1.1" fill="none" />
<path d="M319.5,323.5 L307,327.5 Q305,330 307,333 L323,345.5" stroke="#222" stroke-width="1.1" fill="none" />
<path d="M320,344.5 L323,345.5 L322,342.5" stroke="#222" stroke-width="1.1" fill="none" />
<text x="451" y="300" font-size="6.67" textLength="20" lengthAdjust="spacingAndGlyphs" >CLO</text>
<text x="452" y="367" font-size="6.67" textLength="30.5" lengthAdjust="spacingAndGlyphs" >CLOSET</text>
<text x="520" y="321.25" font-size="10.00" textLength="71" lengthAdjust="spacingAndGlyphs" >BEDROOM #4</text>
<text x="530" y="338" font-size="14.00" textLength="50" lengthAdjust="spacingAndGlyphs" >16 x 16</text>
<text x="0" y="0" font-size="8.5" textLength="20" lengthAdjust="spacingAndGlyphs" transform="translate(663.3,330.5) rotate(-90)">SEAT</text>
<text x="290.5" y="448" font-size="11.67" textLength="53.25" lengthAdjust="spacingAndGlyphs" >BALCONY</text>
<text x="209" y="462.5" font-size="10.00" textLength="28" lengthAdjust="spacingAndGlyphs" >HALL</text>
<text x="233" y="488.75" font-size="7.67" textLength="19.5" lengthAdjust="spacingAndGlyphs" >VOID</text>
<text x="328.4" y="493.8" font-size="10.40" textLength="51.60000000000002" lengthAdjust="spacingAndGlyphs" >BALCONY</text>
<text x="0" y="0" font-size="7" textLength="13" lengthAdjust="spacingAndGlyphs" transform="translate(259,525) rotate(30)">DN.</text>
<text x="238" y="643.7" font-size="7.33" textLength="25.80000000000001" lengthAdjust="spacingAndGlyphs" >LEDGE</text>
<text x="327.9" y="639.3" font-size="8.00" textLength="34.400000000000034" lengthAdjust="spacingAndGlyphs" >OPEN TO</text>
<text x="332.8" y="647" font-size="7.33" textLength="24.0" lengthAdjust="spacingAndGlyphs" >FOYER</text>
<text x="332" y="653.9" font-size="7.33" textLength="27.5" lengthAdjust="spacingAndGlyphs" >BELOW</text>
<path d="M358.5,613.5 Q367,620 371,627 Q371,632 362,634.5" stroke="#222" stroke-width="1.1" fill="none" />
<path d="M357.5,616 L358.5,613.5 L361,614.5" stroke="#222" stroke-width="1.1" fill="none" />
<path d="M329,650 L316,652.5 Q313,655 316,658 L332.6,671.4" stroke="#222" stroke-width="1.1" fill="none" />
<path d="M329.5,670 L332.6,671.4 L331.5,668" stroke="#222" stroke-width="1.1" fill="none" />
<text x="506" y="462.5" font-size="11.33" textLength="27" lengthAdjust="spacingAndGlyphs" >HALL</text>
<text x="467" y="501" font-size="6.67" textLength="30.5" lengthAdjust="spacingAndGlyphs" >CLOSET</text>
<text x="442.5" y="582" font-size="10.67" textLength="71.25" lengthAdjust="spacingAndGlyphs" >BEDROOM #2</text>
<text x="453" y="598.75" font-size="14.33" textLength="50" lengthAdjust="spacingAndGlyphs" >13 x 15</text>
<text x="659" y="539" font-size="11.20" textLength="70.5" lengthAdjust="spacingAndGlyphs" >BEDROOM #3</text>
<text x="668.6" y="555.5" font-size="14.67" textLength="49.39999999999998" lengthAdjust="spacingAndGlyphs" >15 x 11</text>
<text x="654.5" y="621.5" font-size="7.33" textLength="30.899999999999977" lengthAdjust="spacingAndGlyphs" >CLOSET</text>
<text x="702.5" y="621.5" font-size="7.33" textLength="30.0" lengthAdjust="spacingAndGlyphs" >CLOSET</text>
<text x="564" y="590" font-size="10.67" textLength="30.299999999999955" lengthAdjust="spacingAndGlyphs" >BATH</text>
<text x="572" y="602.7" font-size="11.33" textLength="13.399999999999977" lengthAdjust="spacingAndGlyphs" >#2</text>
<text x="549.7" y="552.8" font-size="7.07" textLength="14.899999999999977" lengthAdjust="spacingAndGlyphs" >LIN.</text>
<text x="714.4" y="403.6" font-size="9.33" textLength="29.200000000000045" lengthAdjust="spacingAndGlyphs" >BATH</text>
<text x="769.5" y="459" font-size="6.67" textLength="4.0" lengthAdjust="spacingAndGlyphs" >L</text>
<text x="719.6" y="414.4" font-size="11.20" textLength="12.799999999999955" lengthAdjust="spacingAndGlyphs" >#3</text>
<text x="667" y="389" font-size="10.67" textLength="35.39999999999998" lengthAdjust="spacingAndGlyphs" >DRESS</text>
<text x="673" y="400" font-size="10.13" textLength="13" lengthAdjust="spacingAndGlyphs" >#2</text>
<text x="675" y="456.6" font-size="10.13" textLength="35.39999999999998" lengthAdjust="spacingAndGlyphs" >DRESS</text>
<text x="689" y="467.4" font-size="9.87" textLength="11.399999999999977" lengthAdjust="spacingAndGlyphs" >#1</text>
<text x="127.5" y="438.75" font-size="8.00" textLength="17.0" lengthAdjust="spacingAndGlyphs" >CLO.</text>
<text x="119" y="610.7" font-size="10.27" textLength="74.6" lengthAdjust="spacingAndGlyphs" >ATTIC/ MECH.</text>
<text x="641" y="688" font-size="10.67" textLength="34" lengthAdjust="spacingAndGlyphs" >ATTIC</text>
<text x="633" y="704.5" font-size="13.33" textLength="50.75" lengthAdjust="spacingAndGlyphs" >15 x 10</text>
<text x="316" y="733.75" font-size="8.33" textLength="59.75" lengthAdjust="spacingAndGlyphs" >SLOPED LEDGE</text>
<text x="303" y="758.75" font-size="8.33" textLength="54" lengthAdjust="spacingAndGlyphs" >PLANT LEDGE</text>
<text x="182.5" y="835.5" font-size="25.07" textLength="373.0" lengthAdjust="spacingAndGlyphs" style="stroke-width:1.3px">SECOND LEVEL FLOOR PLAN</text>
<line x1="180" y1="843.5" x2="556" y2="843.5" stroke="#555" stroke-width="1.2"/>
</svg>
</body></html>
